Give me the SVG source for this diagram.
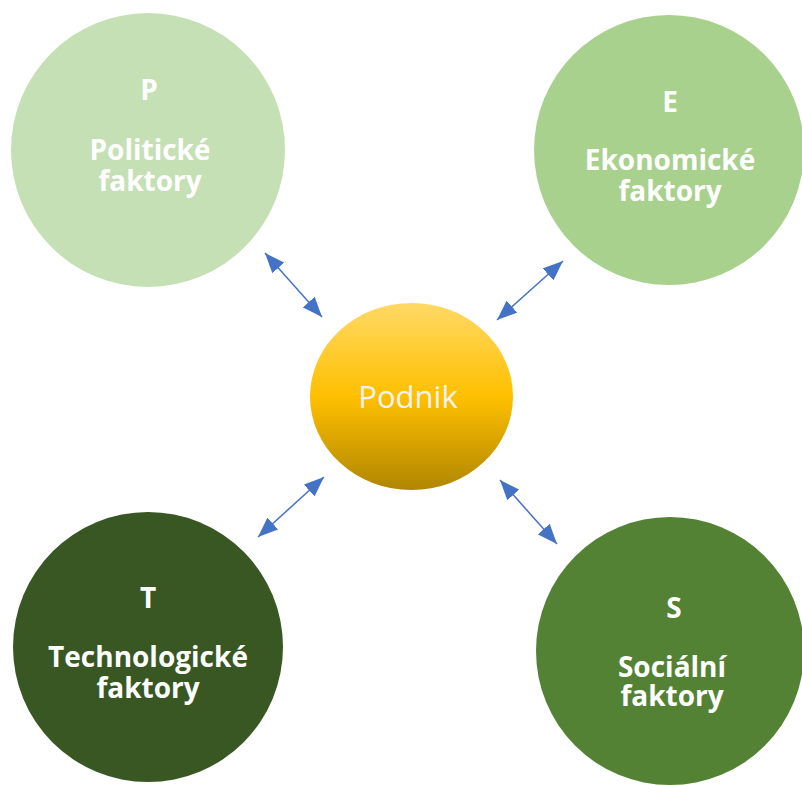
<svg xmlns="http://www.w3.org/2000/svg" width="802" height="785" viewBox="0 0 802 785">
<style>
.lbl{font-family:"Open Sans","Liberation Sans",sans-serif;font-weight:bold;font-size:28px;fill:#ffffff;text-anchor:middle}
.conn{stroke:#4472c4;stroke-width:1.5;fill:none;marker-start:url(#ah);marker-end:url(#ah)}
</style>
<defs>
<marker id="ah" viewBox="0 0 20 16" refX="20" refY="8" markerWidth="20" markerHeight="16" markerUnits="userSpaceOnUse" orient="auto-start-reverse">
<path d="M0,0 L20,8 L0,16 z" fill="#4472c4"/>
</marker>
<linearGradient id="gold" x1="0" y1="0" x2="0" y2="1">
<stop offset="0" stop-color="#ffd966"/>
<stop offset="0.5" stop-color="#ffc000"/>
<stop offset="1" stop-color="#b08600"/>
</linearGradient>
</defs>
<rect width="802" height="785" fill="#ffffff"/>
<g id="connectors">
<line class="conn" x1="265" y1="253" x2="322" y2="317"/>
<line class="conn" x1="563" y1="261" x2="497" y2="320"/>
<line class="conn" x1="324" y1="477" x2="258" y2="537"/>
<line class="conn" x1="500" y1="480" x2="557" y2="544"/>
</g>
<g id="node-P">
<circle cx="148" cy="150" r="137" fill="#c5e0b4"/>
<text class="lbl" x="149" y="100">P</text>
<text class="lbl" x="150" y="160">Politické</text>
<text class="lbl" x="150" y="191">faktory</text>
</g>
<g id="node-E">
<circle cx="669" cy="150" r="135" fill="#a9d18e"/>
<text class="lbl" x="670" y="112">E</text>
<text class="lbl" x="670" y="170">Ekonomické</text>
<text class="lbl" x="670" y="201">faktory</text>
</g>
<g id="node-T">
<circle cx="148" cy="647" r="135" fill="#385723"/>
<text class="lbl" x="148" y="608">T</text>
<text class="lbl" x="148" y="667">Technologické</text>
<text class="lbl" x="148" y="698">faktory</text>
</g>
<g id="node-S">
<circle cx="670" cy="651" r="134" fill="#548235"/>
<text class="lbl" x="674" y="618">S</text>
<text class="lbl" x="672" y="677">Sociální</text>
<text class="lbl" x="672" y="706">faktory</text>
</g>
<g id="node-Podnik">
<ellipse cx="411.5" cy="396.5" rx="101.5" ry="93.5" fill="url(#gold)"/>
<text x="408" y="408" font-family="'Open Sans','Liberation Sans',sans-serif" font-size="31" fill="#f2f2f2" text-anchor="middle">Podnik</text>
</g>
</svg>
